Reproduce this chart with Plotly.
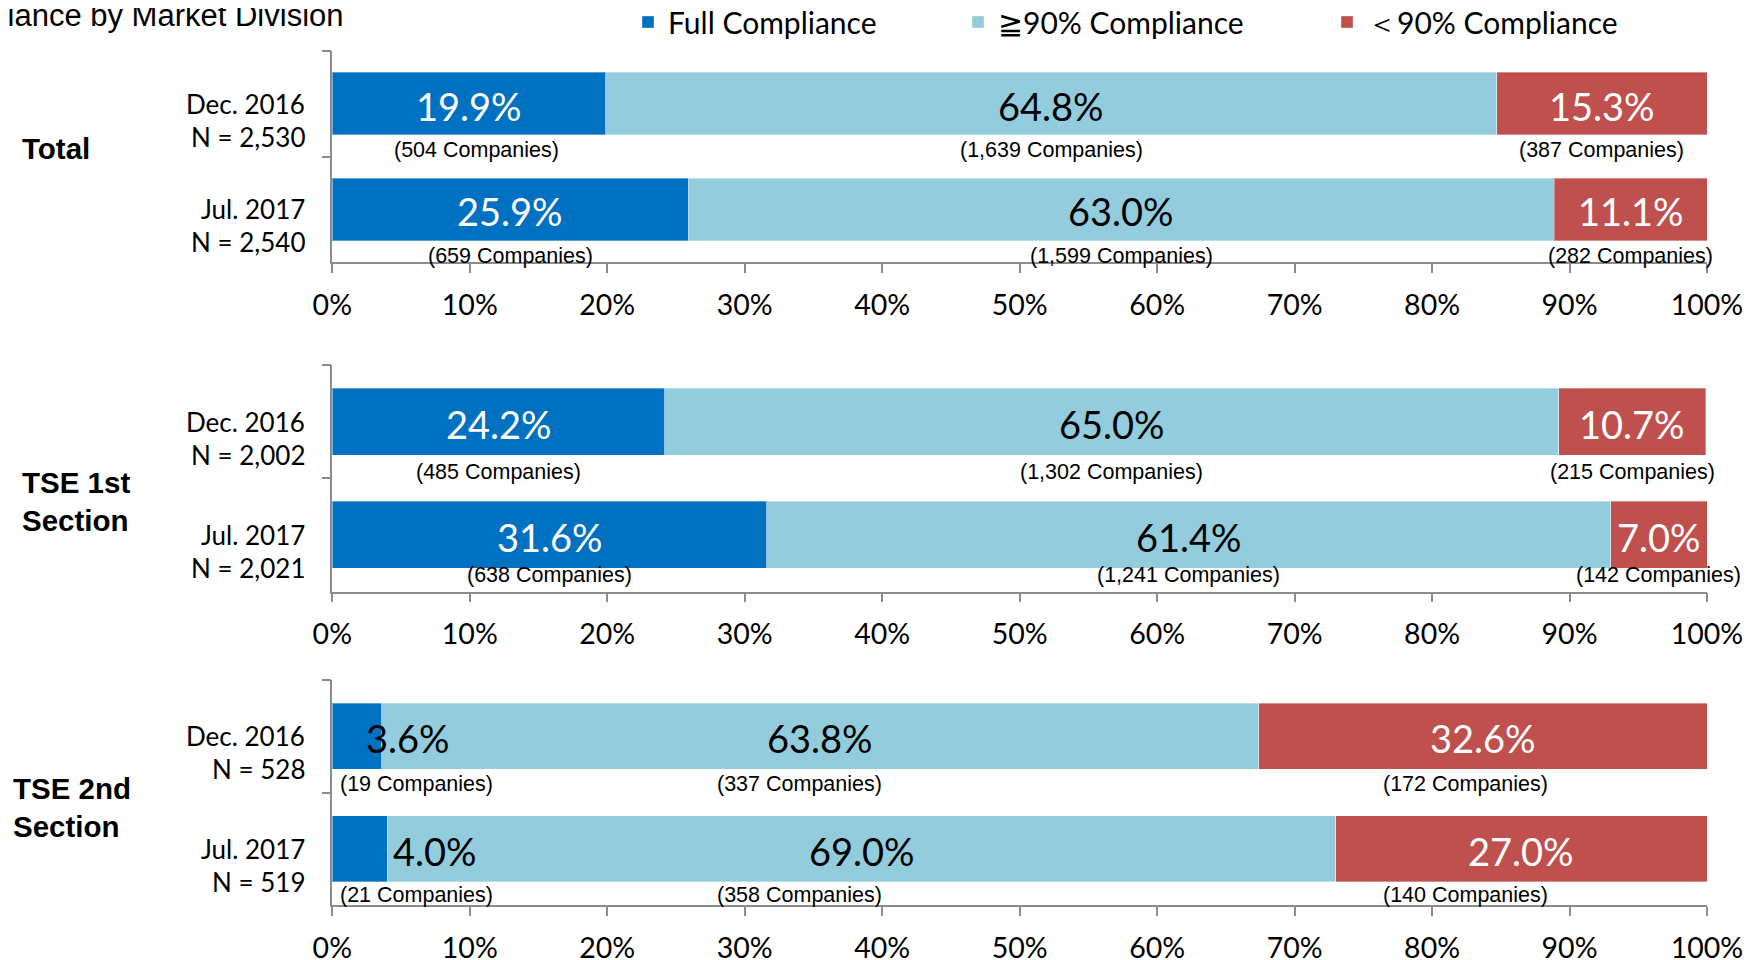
import plotly.graph_objects as go

# ---------------- data ----------------
sections = ["Total", "TSE 1st<br>Section", "TSE 2nd<br>Section"]
periods = ["Dec. 2016", "Jul. 2017"]
n_total = [[2530, 2540], [2002, 2021], [528, 519]]

full_pct = [[19.9, 25.9], [24.2, 31.6], [3.6, 4.0]]
high_pct = [[64.8, 63.0], [65.0, 61.4], [63.8, 69.0]]
low_pct = [[15.3, 11.1], [10.7, 7.0], [32.6, 27.0]]

full_cnt = [[504, 659], [485, 638], [19, 21]]
high_cnt = [[1639, 1599], [1302, 1241], [337, 358]]
low_cnt = [[387, 282], [215, 142], [172, 140]]

series_names = ["Full Compliance", "\u226790% Compliance", "\uff1c90% Compliance"]
x_tick_vals = [0, 10, 20, 30, 40, 50, 60, 70, 80, 90, 100]
x_tick_text = ["0%", "10%", "20%", "30%", "40%", "50%", "60%", "70%", "80%", "90%", "100%"]

# ---------------- styles / layout ----------------
W, H = 1757, 960
OFF = 8  # page body margin compensation (px)
colors = ["#0070C0", "#93CDDD", "#C0504D"]
pct_text_colors = ["white", "black", "white"]
AXIS_COLOR = "#8C8C8C"
FONT = "Lato, 'Open Sans', sans-serif"
ARIAL = "'Liberation Sans', Arial, sans-serif"


def px_x(v):
    return (v - OFF) / W


def px_y(v):
    return 1 - (v - OFF) / H


x_dom = [px_x(332.3), px_x(1707)]
panel_px = [(50.7, 262.3), (365, 591.5), (680, 905)]
y_doms = [[px_y(b), px_y(t)] for t, b in panel_px]

# manual label placements (x in data units) where the original deviates from segment centres
pct_x_override = {(2, 0, 0): 5.5, (2, 1, 0): 7.5}
cnt_x_override = {(0, 0, 0): 10.5, (2, 0, 0): 6.1, (2, 0, 1): 34.0, (2, 0, 2): 82.4,
                  (2, 1, 0): 6.1, (2, 1, 1): 34.0, (2, 1, 2): 82.4}
pct_color_override = {(2, 0, 0): "black", (2, 1, 0): "black"}
cnt_yshift = [[-46, -47], [-50, -40], [-48, -46]]
section_label_y = [149, 501.5, 807.5]
section_label_x = [20, 20, 11]

fig = go.Figure()
annotations = []

for p in range(3):
    xa = "x" if p == 0 else f"x{p+1}"
    ya = "y" if p == 0 else f"y{p+1}"
    pcts = [full_pct[p], high_pct[p], low_pct[p]]
    cnts = [full_cnt[p], high_cnt[p], low_cnt[p]]
    for s in range(3):
        fig.add_trace(go.Bar(
            x=pcts[s], y=periods, orientation="h",
            name=series_names[s],
            marker=dict(color=colors[s], line=dict(color="rgba(255,255,255,0.35)", width=1)),
            xaxis=xa, yaxis=ya,
            showlegend=(p == 0),
            legend="legend" if s == 0 else f"legend{s+1}",
            hoverinfo="skip",
        ))
    for r in range(2):
        left = 0.0
        for s in range(3):
            v = pcts[s][r]
            c = cnts[s][r]
            centre = left + v / 2
            left += v
            px = pct_x_override.get((p, r, s), centre)
            annotations.append(dict(
                x=px, y=periods[r], xref=xa, yref=ya, text=f"{v:.1f}%",
                showarrow=False, xanchor="center", yanchor="middle", yshift=-2,
                font=dict(family=FONT, size=38,
                          color=pct_color_override.get((p, r, s), pct_text_colors[s])),
            ))
            cx = cnt_x_override.get((p, r, s), centre)
            annotations.append(dict(
                x=cx, y=periods[r], xref=xa, yref=ya, text=f"({c:,} Companies)",
                showarrow=False, xanchor="center", yanchor="middle", yshift=cnt_yshift[p][r],
                font=dict(family=ARIAL, size=21.5, color="black"),
            ))
        annotations.append(dict(
            x=0, y=periods[r], xref=f"{xa} domain", yref=ya, text=periods[r],
            showarrow=False, xanchor="right", yanchor="middle", xshift=-25, yshift=0,
            font=dict(family=FONT, size=26, color="black"),
        ))
        annotations.append(dict(
            x=0, y=periods[r], xref=f"{xa} domain", yref=ya, text=f"N = {n_total[p][r]:,}",
            showarrow=False, xanchor="right", yanchor="middle", xshift=-25, yshift=-33,
            font=dict(family=FONT, size=26, color="black"),
        ))
    annotations.append(dict(
        x=px_x(section_label_x[p]), y=px_y(section_label_y[p]), xref="paper", yref="paper",
        text=f"<b>{sections[p]}</b>", showarrow=False, xanchor="left", yanchor="middle",
        align="left", font=dict(family=ARIAL, size=29.5, color="black"),
    ))

annotations.append(dict(
    x=px_x(346), y=px_y(15), xref="paper", yref="paper",
    text="Status of Compliance by Market Division", showarrow=False,
    xanchor="right", yanchor="middle", font=dict(family=ARIAL, size=31, color="black"),
))

layout = dict(
    width=W, height=H, autosize=False,
    margin=dict(l=0, r=0, t=0, b=0, pad=0, autoexpand=False),
    paper_bgcolor="white", plot_bgcolor="white",
    barmode="stack", bargap=0.41,
    font=dict(family=FONT, size=27, color="black"),
    annotations=annotations,
)
leg_x = [628, 958, 1327]
for i in range(3):
    key = "legend" if i == 0 else f"legend{i+1}"
    layout[key] = dict(
        x=px_x(leg_x[i]), y=px_y(22), xanchor="left", yanchor="middle",
        orientation="h", bgcolor="rgba(0,0,0,0)", borderwidth=0,
        font=dict(family=FONT, size=30, color="black"),
    )

for p in range(3):
    xk = "xaxis" if p == 0 else f"xaxis{p+1}"
    yk = "yaxis" if p == 0 else f"yaxis{p+1}"
    ya = "y" if p == 0 else f"y{p+1}"
    xa = "x" if p == 0 else f"x{p+1}"
    layout[xk] = dict(
        domain=x_dom, anchor=ya, range=[0, 100], automargin=False,
        tickmode="array", tickvals=x_tick_vals, ticktext=x_tick_text,
        showgrid=False, zeroline=False, showline=True, linecolor=AXIS_COLOR, linewidth=1.5,
        ticks="outside", ticklen=9, tickwidth=1.5, tickcolor=AXIS_COLOR,
        ticklabelstandoff=8, tickfont=dict(family=FONT, size=28.5, color="black"),
        fixedrange=True,
    )
    layout[yk] = dict(
        domain=y_doms[p], anchor=xa, type="category", automargin=False,
        categoryorder="array", categoryarray=periods, range=[1.5, -0.5],
        showgrid=False, zeroline=False, showline=True, linecolor=AXIS_COLOR, linewidth=1.5,
        ticks="outside", ticklen=9, tickwidth=1.5, tickcolor=AXIS_COLOR,
        tickson="boundaries", showticklabels=False, fixedrange=True,
    )

fig.update_layout(**layout)
fig.write_html("out.html")
